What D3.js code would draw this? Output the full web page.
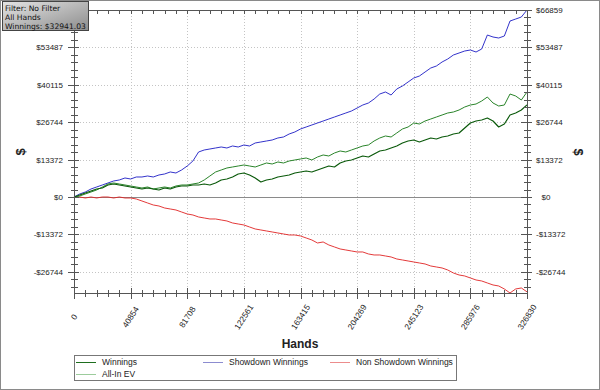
<!DOCTYPE html>
<html>
<head>
<meta charset="utf-8">
<script src="https://cdn.jsdelivr.net/npm/d3@7"></script>
<style>
  body { margin: 0; background: #fff; }
  svg { display: block; }
  text { font-family: "Liberation Sans", Arial, sans-serif; fill: #222; }
</style>
</head>
<body>
<div id="svg-container"></div>
<script>
// values, in $ (81 samples over the hands range)
const handsMax = 326830;
const xTicks = [0, 40854, 81708, 122561, 163415, 204269, 245123, 285976, 326830];
const yTicks = [66859, 53487, 40115, 26744, 13372, 0, -13372, -26744];

const showdown = [0, 1073, 1788, 2860, 3575, 4290, 5005, 5720, 6078, 6793,
  6435, 7150, 7150, 7508, 7150, 7865, 8223, 8938, 8580, 9653,
  11083, 12870, 16088, 16803, 17160, 17518, 17875, 17518, 18233, 17875,
  18590, 18233, 19305, 19663, 20020, 20378, 21093, 21450, 22523, 23238,
  24310, 25025, 25740, 26455, 27170, 27885, 28600, 29315, 30030, 30745,
  31818, 32890, 33605, 35035, 36823, 37538, 36465, 38610, 39683, 41113,
  42543, 43258, 44688, 46118, 46833, 48263, 49335, 50765, 51480, 52195,
  52553, 51838, 52910, 57915, 57200, 56843, 57558, 62920, 63635, 64350, 66859];

const allInEv = [0, 358, 1073, 1788, 2503, 3575, 4648, 5005, 4648, 4290,
  3933, 3575, 3218, 3575, 2860, 3218, 3575, 3218, 3933, 4290,
  4290, 4648, 5005, 6078, 7508, 8938, 9653, 10368, 10725, 11083,
  11440, 11083, 10725, 11440, 12155, 11798, 12513, 12155, 12870, 13228,
  13585, 13943, 13228, 14300, 15015, 14658, 15730, 16445, 16088, 16803,
  17518, 18233, 18590, 20020, 21093, 21808, 21450, 22880, 24310, 25025,
  26455, 26098, 27170, 27885, 28600, 29315, 30030, 30388, 31103, 32175,
  32890, 33248, 34320, 35750, 33605, 32533, 32890, 36823, 36108, 34678, 37538];

const winnings = [0, 715, 1430, 2145, 2860, 3218, 4290, 4648, 4290, 3933,
  3575, 3218, 2860, 3218, 2860, 2503, 3218, 2860, 3575, 3933,
  3933, 4290, 4290, 4648, 4290, 5005, 6078, 6435, 7150, 8223,
  8580, 7865, 6793, 5363, 6078, 6435, 7150, 7508, 7865, 8580,
  8938, 9295, 8938, 9653, 10368, 11083, 10725, 12155, 12870, 13228,
  13943, 14658, 14300, 15373, 16445, 16803, 17518, 18233, 19305, 20020,
  20378, 19663, 20378, 21093, 20735, 21450, 21808, 22523, 22880, 24668,
  26455, 27170, 27528, 28243, 27170, 25025, 26098, 29315, 30030, 31103, 32941];

const nonShowdown = [0, 0, -358, 0, -358, 0, 0, -358, 0, -358,
  -358, -715, -1430, -2145, -2860, -3218, -3933, -4290, -4648, -5363,
  -6078, -6435, -7150, -7508, -7865, -7865, -8223, -8580, -9295, -9653,
  -10010, -10725, -11440, -11798, -12155, -12513, -12870, -13228, -13585, -13585,
  -13943, -14658, -15373, -16445, -16088, -17160, -17875, -18590, -18948, -19305,
  -19663, -19663, -20378, -20735, -20735, -21093, -21450, -22165, -22523, -22880,
  -23238, -23595, -23953, -24668, -25025, -25383, -26098, -27170, -27885, -28243,
  -28958, -29673, -30030, -30745, -31460, -31818, -32890, -34320, -32890, -32533, -33918];

const legendItems = [
  { name: "Winnings", color: "#1e6e1e" },
  { name: "Showdown Winnings", color: "#8c8cd0" },
  { name: "Non Showdown Winnings", color: "#ec8c8c" },
  { name: "All-In EV", color: "#9ccc9c" }
];

const width = 600, height = 390;
const plotL = 74, plotR = 527, plotT = 10, plotB = 293;

const svg = d3.select("#svg-container").append("svg")
  .attr("width", width)
  .attr("height", height);

const x = d3.scaleLinear().domain([0, handsMax]).range([plotL, plotR]);
const y = d3.scaleLinear().domain([-34330, 66859]).range([plotB, plotT]);
const hands = showdown.map((d, i) => i * handsMax / (showdown.length - 1));

const money = v => (v < 0 ? "-$" : "$") + Math.abs(v);

// outer frame
svg.append("rect")
  .attr("x", 0.5).attr("y", 0.5)
  .attr("width", width - 1).attr("height", height - 1)
  .attr("fill", "#fff")
  .attr("stroke", "#8a8a8a");

// minor tick positions (4 between majors)
const xMinor = [];
for (let i = 0; i < xTicks.length - 1; i++) {
  const step = (xTicks[i + 1] - xTicks[i]) / 5;
  for (let k = 1; k < 5; k++) xMinor.push(xTicks[i] + k * step);
}
const yStep = 13372 / 5;
const yMinor = [];
for (let k = 1; 66859 - k * yStep > -34330; k++) {
  if (k % 5 !== 0) yMinor.push(66859 - k * yStep);
}

// grid
const grid = svg.append("g")
  .attr("stroke", "#c4c4c4")
  .attr("stroke-dasharray", "1,2")
  .attr("shape-rendering", "crispEdges");
grid.selectAll("line.vx")
  .data(xTicks.slice(1, -1))
  .enter().append("line")
  .attr("x1", d => Math.round(x(d)) + 0.5).attr("x2", d => Math.round(x(d)) + 0.5)
  .attr("y1", plotT).attr("y2", plotB);
grid.selectAll("line.hy")
  .data(yTicks.filter(d => d !== 0 && d !== 66859))
  .enter().append("line")
  .attr("y1", d => Math.round(y(d)) + 0.5).attr("y2", d => Math.round(y(d)) + 0.5)
  .attr("x1", plotL).attr("x2", plotR);

// zero line
svg.append("line")
  .attr("x1", plotL).attr("x2", plotR)
  .attr("y1", Math.round(y(0)) + 0.5).attr("y2", Math.round(y(0)) + 0.5)
  .attr("stroke", "#8a8a8a");

// series
const line = d3.line()
  .x((d, i) => x(hands[i]))
  .y(d => y(d));

const series = [
  { data: nonShowdown, color: "#e02424", w: 0.9 },
  { data: showdown, color: "#1c1cc4", w: 0.9 },
  { data: allInEv, color: "#2a842a", w: 1 },
  { data: winnings, color: "#0b5a0b", w: 1.2 }
];
series.forEach(s => {
  svg.append("path")
    .attr("d", line(s.data))
    .attr("fill", "none")
    .attr("stroke", s.color)
    .attr("stroke-width", s.w)
    .attr("stroke-linejoin", "round");
});

// frame + ticks
const axis = svg.append("g")
  .attr("stroke", "#555")
  .attr("shape-rendering", "crispEdges");
axis.append("line").attr("x1", plotL + 0.5).attr("x2", plotL + 0.5).attr("y1", plotT).attr("y2", plotB + 1);
axis.append("line").attr("x1", plotR + 0.5).attr("x2", plotR + 0.5).attr("y1", plotT).attr("y2", plotB + 1);
axis.append("line").attr("x1", plotL).attr("x2", plotR + 1).attr("y1", plotT + 0.5).attr("y2", plotT + 0.5);
axis.append("line").attr("x1", plotL).attr("x2", plotR + 1).attr("y1", plotB + 0.5).attr("y2", plotB + 0.5);

[plotL, plotR].forEach(ax => {
  axis.selectAll(null)
    .data(yTicks)
    .enter().append("line")
    .attr("x1", ax - 6).attr("x2", ax + 5)
    .attr("y1", d => Math.round(y(d)) + 0.5).attr("y2", d => Math.round(y(d)) + 0.5);
  axis.selectAll(null)
    .data(yMinor)
    .enter().append("line")
    .attr("x1", ax - 3).attr("x2", ax + 4)
    .attr("y1", d => Math.round(y(d)) + 0.5).attr("y2", d => Math.round(y(d)) + 0.5);
});

axis.selectAll(null)
  .data(xTicks)
  .enter().append("line")
  .attr("x1", d => Math.round(x(d)) + 0.5).attr("x2", d => Math.round(x(d)) + 0.5)
  .attr("y1", plotB - 5).attr("y2", plotB + 6);
axis.selectAll(null)
  .data(xMinor)
  .enter().append("line")
  .attr("x1", d => Math.round(x(d)) + 0.5).attr("x2", d => Math.round(x(d)) + 0.5)
  .attr("y1", plotB - 3).attr("y2", plotB + 4);
axis.selectAll(null)
  .data(xTicks.concat(xMinor))
  .enter().append("line")
  .attr("x1", d => Math.round(x(d)) + 0.5).attr("x2", d => Math.round(x(d)) + 0.5)
  .attr("y1", plotT).attr("y2", plotT + 4);

// y labels both sides (top-left one sits under the info box)
svg.selectAll("text.yl")
  .data(yTicks.slice(1))
  .enter().append("text")
  .attr("x", plotL - 11)
  .attr("y", d => y(d) + 3)
  .attr("text-anchor", "end")
  .style("font-size", "8px")
  .text(money);
svg.selectAll("text.yr")
  .data(yTicks)
  .enter().append("text")
  .attr("x", d => d === 0 ? plotR + 19 : plotR + 9)
  .attr("y", d => y(d) + 3)
  .attr("text-anchor", d => d === 0 ? "middle" : "start")
  .style("font-size", "8px")
  .text(money);

// x labels, rotated
svg.selectAll("text.xl")
  .data(xTicks)
  .enter().append("text")
  .attr("transform", d => `translate(${x(d)},317) rotate(-57)`)
  .attr("text-anchor", "middle")
  .attr("dy", "0.35em")
  .style("font-size", "8.3px")
  .text(d => d);

// axis titles
svg.append("text")
  .attr("x", 300).attr("y", 348)
  .attr("text-anchor", "middle")
  .style("font-size", "12px")
  .style("font-weight", "bold")
  .text("Hands");
svg.append("text")
  .attr("transform", "translate(20,152) rotate(-90)")
  .attr("text-anchor", "middle")
  .attr("dy", "0.35em")
  .style("font-size", "13px")
  .style("font-weight", "bold")
  .text("$");
svg.append("text")
  .attr("transform", "translate(579,152) rotate(90)")
  .attr("text-anchor", "middle")
  .attr("dy", "0.35em")
  .style("font-size", "13px")
  .style("font-weight", "bold")
  .text("$");

// legend
const legend = svg.append("g");
legend.append("rect")
  .attr("x", 74.5).attr("y", 355.5)
  .attr("width", 382).attr("height", 25)
  .attr("fill", "#fff")
  .attr("stroke", "#777");
const legendPos = [[76, 362], [203, 362], [330, 362], [76, 374]];
legendItems.forEach((item, i) => {
  const [lx, ly] = legendPos[i];
  legend.append("line")
    .attr("x1", lx).attr("x2", lx + 20)
    .attr("y1", ly + 0.5).attr("y2", ly + 0.5)
    .attr("stroke", item.color);
  legend.append("text")
    .attr("x", lx + 26).attr("y", ly + 3)
    .style("font-size", "8.5px")
    .text(item.name);
});

// info box, top left
const defs = svg.append("defs");
const grad = defs.append("linearGradient")
  .attr("id", "infoGrad")
  .attr("x1", "0").attr("y1", "0").attr("x2", "1").attr("y2", "1");
grad.append("stop").attr("offset", "0%").attr("stop-color", "#e4e4e4");
grad.append("stop").attr("offset", "100%").attr("stop-color", "#8c8c8c");
svg.append("rect")
  .attr("x", 2.5).attr("y", 1.5)
  .attr("width", 86).attr("height", 29)
  .attr("fill", "url(#infoGrad)")
  .attr("stroke", "#444");
["Filter: No Filter", "All Hands", "Winnings: $32941.03"].forEach((t, i) => {
  svg.append("text")
    .attr("x", 5).attr("y", 10.5 + i * 9.4)
    .style("font-family", "'DejaVu Sans', sans-serif")
    .style("font-size", "7.6px")
    .style("fill", "#111")
    .text(t);
});
</script>
</body>
</html>
